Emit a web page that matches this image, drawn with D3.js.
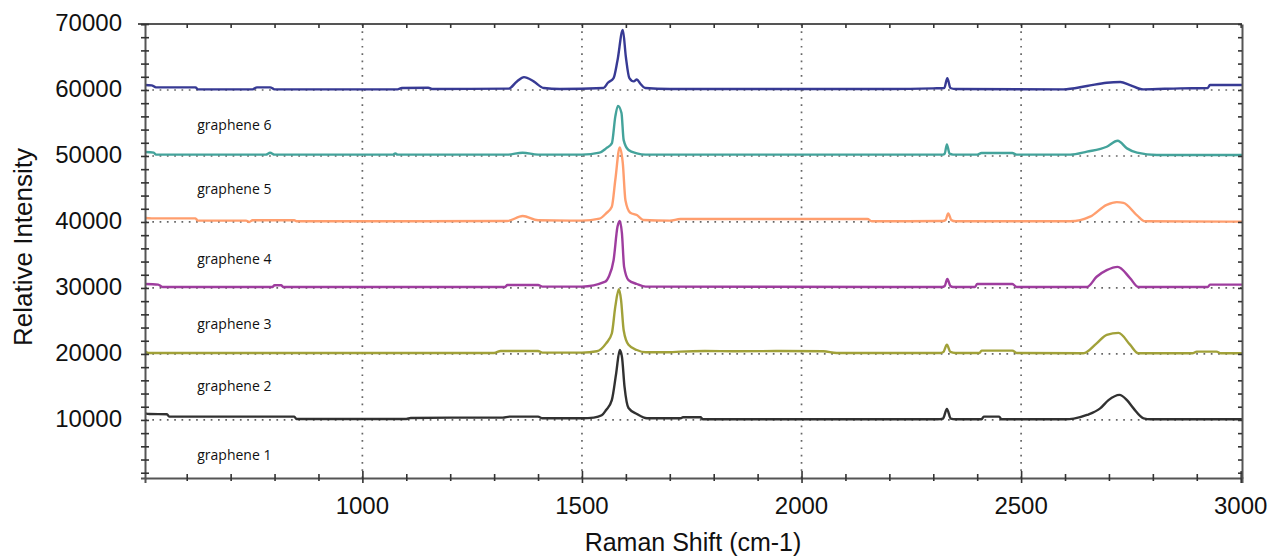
<!DOCTYPE html>
<html>
<head>
<meta charset="utf-8">
<script src="https://cdn.jsdelivr.net/npm/d3@7"></script>
<style>
  body { margin: 0; background: #fff; }
  text { font-family: "Liberation Sans", Arial, sans-serif; fill: #111; }
</style>
</head>
<body>
<svg id="chart" width="1270" height="558"></svg>
<script>
// Raman spectra, offset by 10000 each
const seriesNames = ["graphene 1", "graphene 2", "graphene 3", "graphene 4", "graphene 5", "graphene 6"];
const seriesColors = ["#262626", "#9c9c2e", "#993399", "#ff9966", "#3a9e96", "#2c2f8e"];

const graphene1 = [[505,11000],[515,10900],[555,10850],[560,10500],[845,10500],[850,10150],[1100,10150],[1110,10300],[1200,10350],[1320,10350],[1335,10500],[1400,10500],[1410,10250],[1500,10250],[1527,10350],[1545,10700],[1555,11500],[1568,13000],[1578,17100],[1586,20600],[1591,19600],[1597,15000],[1606,11800],[1625,10900],[1648,10250],[1725,10250],[1730,10400],[1770,10400],[1775,10100],[2310,10100],[2322,10200],[2331,11650],[2340,10200],[2350,10100],[2410,10100],[2415,10500],[2450,10500],[2455,10100],[2600,10100],[2620,10200],[2650,10750],[2680,11750],[2699,13000],[2724,13800],[2741,13000],[2756,11750],[2779,10250],[2795,10100],[3003,10100]];

const graphene2 = [[505,20400],[512,20150],[1300,20150],[1315,20450],[1400,20450],[1410,20200],[1500,20200],[1534,20400],[1555,21600],[1568,23100],[1576,27200],[1584,29800],[1589,28200],[1595,23600],[1606,21400],[1625,20600],[1645,20250],[1700,20250],[1724,20350],[1780,20450],[1850,20400],[1950,20450],[2050,20400],[2080,20150],[2315,20150],[2323,20300],[2331,21400],[2339,20300],[2350,20150],[2405,20150],[2410,20500],[2480,20500],[2490,20150],[2642,20100],[2672,21600],[2695,22900],[2722,23200],[2748,21400],[2767,20100],[2890,20100],[2900,20350],[2945,20350],[2955,20100],[3003,20100]];

const graphene3 = [[505,30600],[535,30500],[545,30150],[795,30150],[800,30400],[815,30400],[820,30150],[1325,30150],[1330,30450],[1400,30450],[1410,30200],[1500,30200],[1553,30950],[1561,31700],[1572,34200],[1581,39300],[1586,40150],[1591,38300],[1596,33200],[1606,31200],[1625,30600],[1645,30200],[2320,30150],[2326,30300],[2332,31350],[2339,30300],[2345,30150],[2395,30150],[2400,30600],[2480,30600],[2490,30150],[2650,30150],[2672,31700],[2695,32700],[2720,33200],[2748,31500],[2767,30150],[2925,30150],[2930,30500],[3003,30500]];

const graphene4 = [[505,40600],[520,40550],[620,40550],[625,40200],[735,40200],[742,40000],[750,40250],[845,40250],[850,40100],[1330,40150],[1365,40900],[1400,40250],[1500,40200],[1540,40500],[1555,41300],[1568,42300],[1576,46400],[1586,51300],[1593,48900],[1599,43300],[1610,41400],[1625,41050],[1640,40300],[1700,40200],[1724,40450],[2150,40450],[2160,40100],[2322,40150],[2328,40300],[2334,41300],[2341,40300],[2350,40100],[2612,40100],[2657,40800],[2695,42600],[2718,43000],[2733,42900],[2764,41000],[2782,40100],[3003,40050]];

const graphene5 = [[505,50600],[525,50500],[530,50200],[780,50200],[790,50500],[800,50200],[1070,50200],[1075,50400],[1080,50200],[1330,50200],[1365,50500],[1400,50200],[1500,50200],[1540,50500],[1555,51150],[1568,51900],[1576,56000],[1582,57600],[1590,56500],[1595,52400],[1606,50900],[1625,50400],[1645,50200],[2322,50200],[2326,50350],[2331,51750],[2337,50350],[2345,50200],[2400,50200],[2410,50450],[2480,50450],[2490,50200],[2612,50200],[2650,50650],[2695,51400],[2720,52300],[2741,51150],[2764,50500],[2809,50150],[3003,50150]];

const graphene6 = [[505,60750],[520,60700],[530,60400],[620,60400],[625,60100],[750,60100],[760,60400],[790,60400],[800,60100],[1080,60100],[1090,60300],[1150,60350],[1160,60150],[1333,60200],[1352,61300],[1368,61950],[1390,61300],[1413,60300],[1450,60150],[1549,60300],[1559,61100],[1572,61800],[1581,64500],[1593,69100],[1600,65000],[1608,61800],[1618,61300],[1625,61600],[1633,60950],[1644,60300],[1700,60150],[2200,60150],[2300,60250],[2325,60300],[2332,61800],[2339,60300],[2350,60150],[2596,60100],[2650,60600],[2695,61100],[2726,61200],[2748,60750],[2778,60100],[2862,60250],[2925,60300],[2930,60750],[3003,60750]];

const allSeries = [graphene1, graphene2, graphene3, graphene4, graphene5, graphene6];

// where the series names sit (data units)
const labelY = [4700, 15150, 24500, 34350, 44950, 54700];
const labelX = 624;

const xMajor = [1000, 1500, 2000, 2500, 3000];
const yMajor = [10000, 20000, 30000, 40000, 50000, 60000, 70000];

const svg = d3.select("#chart");
const plotLeft = 145, plotRight = 1242, plotTop = 24, plotBottom = 478;

const x = d3.scaleLinear().domain([505, 3003]).range([plotLeft, plotRight]);
const y = d3.scaleLinear().domain([1200, 70000]).range([plotBottom, plotTop]);

const axisColor = "#555";

// dotted grid
svg.append("g").selectAll("line")
   .data(xMajor.filter(d => d < 3000))
   .join("line")
   .attr("x1", d => x(d)).attr("x2", d => x(d))
   .attr("y1", plotTop).attr("y2", plotBottom)
   .attr("stroke", "#666").attr("stroke-width", 1.7)
   .attr("stroke-dasharray", "1.7,5.6");
svg.append("g").selectAll("line")
   .data(yMajor.filter(d => d < 70000))
   .join("line")
   .attr("x1", plotLeft).attr("x2", plotRight)
   .attr("y1", d => y(d)).attr("y2", d => y(d))
   .attr("stroke", "#666").attr("stroke-width", 1.7)
   .attr("stroke-dasharray", "1.7,5.6");

// spectra
svg.append("clipPath").attr("id", "plot")
   .append("rect").attr("x", plotLeft).attr("y", plotTop)
   .attr("width", plotRight - plotLeft).attr("height", plotBottom - plotTop);

const line = d3.line()
   .x(d => x(d[0]))
   .y(d => y(d[1]))
   .curve(d3.curveMonotoneX);

svg.append("g").attr("clip-path", "url(#plot)")
   .selectAll("path")
   .data(allSeries)
   .join("path")
   .attr("d", line)
   .attr("fill", "none")
   .attr("stroke", (d, i) => seriesColors[i])
   .attr("stroke-width", 2.4)
   .attr("stroke-linejoin", "round")
   .attr("opacity", 0.95);

// frame + ticks
const minorX = d3.range(600, 3001, 100);
const minorY = d3.range(2000, 70001, 2000);

let gBottom = svg.append("g").attr("transform", `translate(0,${plotBottom})`)
   .call(d3.axisBottom(x).tickValues(minorX).tickSize(5).tickFormat(""));
gBottom.selectAll(".tick line")
   .attr("y1", d => xMajor.includes(d) ? -7 : -4)
   .attr("y2", d => xMajor.includes(d) ? 5 : 3);

let gTop = svg.append("g").attr("transform", `translate(0,${plotTop})`)
   .call(d3.axisTop(x).tickValues(minorX).tickSize(0).tickFormat(""));
gTop.selectAll(".tick line").attr("y1", 0).attr("y2", 4);

let gLeft = svg.append("g").attr("transform", `translate(${plotLeft},0)`)
   .call(d3.axisLeft(y).tickValues(minorY).tickSize(4).tickFormat(""));
gLeft.selectAll(".tick line").attr("x1", -4).attr("x2", 4);

let gRight = svg.append("g").attr("transform", `translate(${plotRight},0)`)
   .call(d3.axisRight(y).tickValues(minorY).tickSize(0).tickFormat(""));
gRight.selectAll(".tick line").attr("x1", -4).attr("x2", 0);

[gBottom, gTop, gLeft, gRight].forEach(g => {
   g.select(".domain").attr("stroke", axisColor).attr("stroke-width", 2);
   g.selectAll(".tick line").attr("stroke", "#333").attr("stroke-width", 1.6);
});
gTop.select(".domain").attr("d", `M${plotLeft - 7},0H${plotRight}`);

// tick labels
svg.append("g").selectAll("text")
   .data(xMajor)
   .join("text")
   .attr("x", d => x(d)).attr("y", plotBottom + 36)
   .attr("text-anchor", "middle")
   .attr("font-size", 24)
   .text(d => d);

svg.append("g").selectAll("text")
   .data(yMajor)
   .join("text")
   .attr("x", 122).attr("y", d => y(d) + 7)
   .attr("text-anchor", "end")
   .attr("font-size", 24)
   .text(d => d);

// axis titles
svg.append("text")
   .attr("x", 693).attr("y", 551)
   .attr("text-anchor", "middle")
   .attr("font-size", 25)
   .text("Raman Shift (cm-1)");

svg.append("text")
   .attr("transform", "translate(32,247) rotate(-90)")
   .attr("text-anchor", "middle")
   .attr("font-size", 26)
   .text("Relative Intensity");

// series names
svg.append("g").selectAll("text")
   .data(seriesNames)
   .join("text")
   .attr("x", x(labelX)).attr("y", (d, i) => y(labelY[i]) + 5)
   .style("font-family", "'Open Sans', sans-serif")
   .attr("font-size", 14)
   .text(d => d);
</script>
</body>
</html>
